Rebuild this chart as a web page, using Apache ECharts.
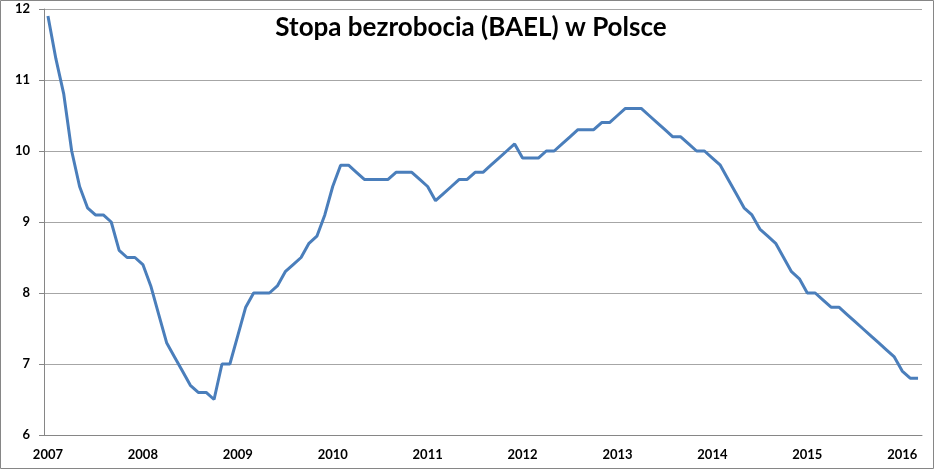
<!DOCTYPE html>
<html>
<head>
<meta charset="utf-8">
<script src="https://cdn.jsdelivr.net/npm/echarts@6/dist/echarts.min.js"></script>
<style>
  html, body { margin: 0; padding: 0; background: #fff; }
  #main { width: 945px; height: 471px; }
</style>
</head>
<body>
<div id="main"></div>
<script>
  // lata i miesiace (styczen 2007 - marzec 2016)
  var years = [2007, 2008, 2009, 2010, 2011, 2012, 2013, 2014, 2015, 2016];
  var yTicks = [6, 7, 8, 9, 10, 11, 12];

  // stopa bezrobocia BAEL, % (odczyt z wykresu)
  var rate = [
    11.9, 11.3, 10.8, 10.0, 9.5, 9.2, 9.1, 9.1, 9.0, 8.6, 8.5, 8.5,
    8.4, 8.1, 7.7, 7.3, 7.1, 6.9, 6.7, 6.6, 6.6, 6.5, 7.0, 7.0,
    7.4, 7.8, 8.0, 8.0, 8.0, 8.1, 8.3, 8.4, 8.5, 8.7, 8.8, 9.1,
    9.5, 9.8, 9.8, 9.7, 9.6, 9.6, 9.6, 9.6, 9.7, 9.7, 9.7, 9.6,
    9.5, 9.3, 9.4, 9.5, 9.6, 9.6, 9.7, 9.7, 9.8, 9.9, 10.0, 10.1,
    9.9, 9.9, 9.9, 10.0, 10.0, 10.1, 10.2, 10.3, 10.3, 10.3, 10.4, 10.4,
    10.5, 10.6, 10.6, 10.6, 10.5, 10.4, 10.3, 10.2, 10.2, 10.1, 10.0, 10.0,
    9.9, 9.8, 9.6, 9.4, 9.2, 9.1, 8.9, 8.8, 8.7, 8.5, 8.3, 8.2,
    8.0, 8.0, 7.9, 7.8, 7.8, 7.7, 7.6, 7.5, 7.4, 7.3, 7.2, 7.1,
    6.9, 6.8, 6.8
  ];

  var months = [];
  for (var i = 0; i < rate.length; i++) {
    var y = years[Math.floor(i / 12)];
    var m = (i % 12) + 1;
    months.push(y + '-' + (m < 10 ? '0' + m : m));
  }

  var myChart = echarts.init(document.getElementById('main'));

  var option = {
    backgroundColor: '#fff',
    animation: false,
    title: {
      text: 'Stopa bezrobocia (BAEL) w Polsce',
      left: 466,
      top: 10,
      textAlign: 'center',
      textStyle: {
        fontFamily: 'Lato',
        fontWeight: 'bold',
        fontSize: 26,
        color: '#000'
      }
    },
    graphic: [{
      type: 'rect',
      shape: { x: 0.5, y: 0.5, width: 933, height: 468 },
      style: { fill: 'none', stroke: '#868686', lineWidth: 1 },
      silent: true
    }],
    grid: {
      left: 44,
      right: 23,
      top: 9,
      bottom: 36
    },
    xAxis: {
      type: 'category',
      data: months,
      boundaryGap: true,
      axisLine: { lineStyle: { color: '#868686', width: 1 } },
      axisTick: { interval: 11, length: 5, lineStyle: { color: '#868686' } },
      axisLabel: {
        interval: 11,
        margin: 13,
        color: '#000',
        fontFamily: 'Lato',
        fontWeight: 'bold',
        fontSize: 13,
        formatter: function (v) { return v.substring(0, 4); }
      },
      splitLine: { show: false }
    },
    yAxis: {
      type: 'value',
      min: yTicks[0],
      max: yTicks[yTicks.length - 1],
      interval: 1,
      axisLine: { show: true, lineStyle: { color: '#868686', width: 1 } },
      axisTick: { show: true, length: 5, lineStyle: { color: '#868686' } },
      axisLabel: {
        margin: 14,
        color: '#000',
        fontFamily: 'Lato',
        fontWeight: 'bold',
        fontSize: 13
      },
      splitLine: { lineStyle: { color: '#a6a6a6', width: 1 } }
    },
    series: [{
      name: 'Stopa bezrobocia',
      type: 'line',
      data: rate,
      symbol: 'none',
      lineStyle: { color: '#4a7ebb', width: 3 }
    }]
  };

  myChart.setOption(option);
</script>
</body>
</html>
